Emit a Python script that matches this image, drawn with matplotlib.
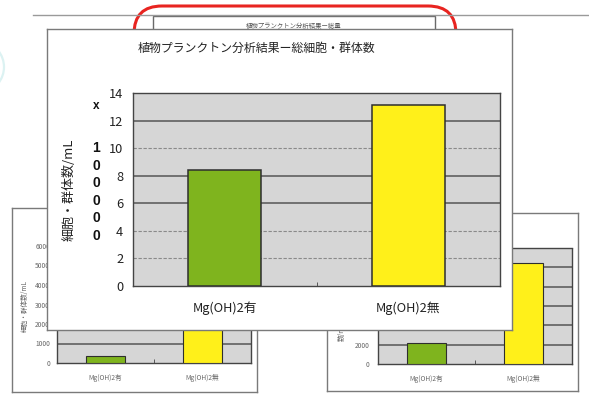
import matplotlib
matplotlib.use("Agg")
import matplotlib.pyplot as plt
from matplotlib.patches import Rectangle, FancyBboxPatch, Arc

plt.rcParams['font.family'] = ['Noto Sans CJK JP', 'DejaVu Sans']

# chart data
categories = ["Mg(OH)2有", "Mg(OH)2無"]
main_values = [8.4, 13.1]          # x100000 cells/mL
left_values = [370, 5800]          # cells/mL
right_values = [2200, 10500]       # cells/mL
main_title = "植物プランクトン分析結果ー総細胞・群体数"
back_title = "植物プランクトン分析結果ー総量"
ylabel_text = "細胞・群体数/mL"
multiplier = "x100000"

GREEN = "#7fb41e"
YELLOW = "#fff01a"
PLOT_BG = "#d6d6d6"
EDGE = "#2e2e2e"

W, H = 589, 397
fig = plt.figure(figsize=(W / 100, H / 100), dpi=100)
fig.patch.set_facecolor("white")


def px_axes(x0, y0, x1, y1, z):
    ax = fig.add_axes([x0 / W, 1 - y1 / H, (x1 - x0) / W, (y1 - y0) / H])
    ax.set_zorder(z)
    return ax


def card(x0, y0, x1, y1, z):
    ax = px_axes(x0, y0, x1, y1, z)
    ax.set_xlim(x0, x1)
    ax.set_ylim(y1, y0)
    ax.set_facecolor("white")
    ax.set_xticks([])
    ax.set_yticks([])
    for s in ax.spines.values():
        s.set_color("#7a7a7a")
        s.set_linewidth(1.0)
    return ax


def bar_plot(ax, values, ymax, step, dark_lines, fs, xpad, ypad, lw=1.0):
    ax.set_facecolor(PLOT_BG)
    ax.bar(range(len(values)), values, width=0.4, color=[GREEN, YELLOW],
           edgecolor=EDGE, linewidth=lw, zorder=3)
    ax.set_xlim(-0.5, len(values) - 0.5)
    ax.set_ylim(0, ymax)
    ticks = list(range(0, ymax + 1, step))
    ax.set_yticks(ticks)
    ax.set_xticks(range(len(values)))
    ax.set_xticklabels(categories)
    for v in ticks[1:-1]:
        if v in dark_lines:
            ax.axhline(v, color="#555555", lw=1.1, zorder=1)
        else:
            ax.axhline(v, color="#8a8a8a", lw=0.8, ls=(0, (3, 1.5)), zorder=1)
    ax.set_xticks([0.5], minor=True)
    ax.tick_params(axis="both", which="major", length=0, labelsize=fs)
    ax.tick_params(axis="x", which="major", pad=xpad)
    ax.tick_params(axis="y", which="major", pad=ypad)
    ax.tick_params(axis="x", which="minor", direction="in", length=3,
                   color="#444444")
    for s in ax.spines.values():
        s.set_color("#444444")
        s.set_linewidth(1.0)
        s.set_linestyle((0, (2, 1)))


# background layer: slide rule, highlight frame and a card behind
bg = px_axes(0, 0, W, H, 0)
bg.set_xlim(0, W)
bg.set_ylim(H, 0)
bg.axis("off")
bg.plot([33, W], [15, 15], color="#9a9a9a", lw=1.0)
bg.add_patch(Arc((-22, 67), 52, 52, theta1=-40, theta2=40,
                 color="#dcf2f2", lw=1.6))
bg.add_patch(Rectangle((153, 16), 282, 40, facecolor="white",
                       edgecolor="#6a6a6a", lw=1.0))
bg.text(294, 26, back_title, fontsize=4.6, color="#555555",
        ha="center", va="center")
bg.add_patch(FancyBboxPatch((134, 6), 322, 80,
                            boxstyle="round,pad=0,rounding_size=28",
                            facecolor="none", edgecolor="#e82420", lw=2.2))

# left small card
lc = card(12, 208, 257, 392, 1)
lc.text(25, 306, ylabel_text, rotation=90, fontsize=4.8, color="#666666",
        ha="center", va="center")
lp = px_axes(57, 246, 251, 363, 2)
bar_plot(lp, left_values, 6000, 1000, range(1000, 6000, 1000), 4.8, 8, 5, lw=0.8)
for t in lp.get_xticklabels() + lp.get_yticklabels():
    t.set_color("#666666")

# right small card
rc = card(327, 213, 578, 391, 3)
rc.text(342, 341, "数/mL", rotation=90, fontsize=4.8, color="#666666",
        ha="center", va="bottom")
rp = px_axes(378, 248, 572, 364, 4)
bar_plot(rp, right_values, 12000, 2000, range(2000, 12000, 2000), 4.8, 8, 6, lw=0.8)
for t in rp.get_xticklabels() + rp.get_yticklabels():
    t.set_color("#666666")

# main card
mc = card(47, 29, 512, 330, 5)
mc.text(256, 48, main_title, fontsize=8.6, color="#222222",
        ha="center", va="center")
mc.text(69, 190, ylabel_text, rotation=90, fontsize=9.4, color="#222222",
        ha="center", va="center")
col_y = [106] + [148 + 17.6 * i for i in range(len(multiplier) - 1)]
for ch, y in zip(multiplier, col_y):
    mc.text(96, y, ch, fontsize=10 if ch != "x" else 8.5,
            fontweight="bold", family="Liberation Sans", color="#111111",
            ha="center", va="center")

mp = px_axes(133, 93, 500, 286, 6)
bar_plot(mp, main_values, 14, 2, (6, 8, 12), 9.2, 11, 7, lw=1.1)
for t in mp.get_xticklabels() + mp.get_yticklabels():
    t.set_color("#222222")

fig.savefig("out.png", dpi=100)
